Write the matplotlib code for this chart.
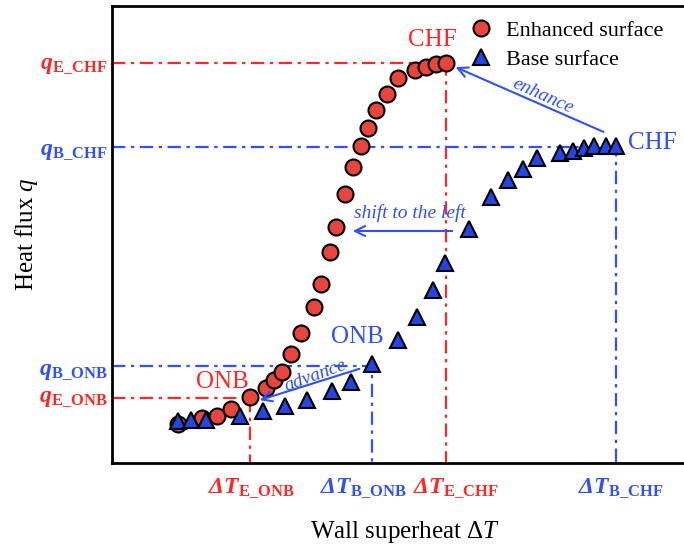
import matplotlib
matplotlib.use("Agg")
import matplotlib.pyplot as plt
from matplotlib.lines import Line2D

plt.rcParams['font.family'] = ['Liberation Serif', 'DejaVu Serif']
plt.rcParams['mathtext.fontset'] = 'custom'
plt.rcParams['mathtext.rm'] = 'Liberation Serif'
plt.rcParams['mathtext.it'] = 'Liberation Serif:italic'
plt.rcParams['mathtext.bf'] = 'Liberation Serif:bold'
plt.rcParams['mathtext.bfit'] = 'Liberation Serif:bold:italic'

# boiling curves (arbitrary units)
enh_dT = [66, 90, 105, 119, 138, 154, 162, 170, 179, 189, 202, 209, 218, 224,
          233, 241, 249, 256, 264, 275, 286, 303, 314, 324, 334]
enh_q = [39, 45, 47, 54, 66, 75, 83, 91, 109, 130, 156, 179, 211, 236,
         269, 296, 317, 335, 353, 369, 385, 393, 396, 399, 400]
base_dT = [66, 79, 94, 128, 151, 173, 195, 220, 239, 260, 286, 305, 321, 333,
           357, 379, 396, 411, 425, 448, 461, 472, 482, 494, 504]
base_q = [42, 43, 43, 47, 52, 57, 63, 72, 81, 99, 123, 146, 173, 200,
          234, 266, 283, 294, 305, 310, 312, 315, 317, 317, 317]

# characteristic points
dT_E_ONB, q_E_ONB = 138, 65
dT_B_ONB, q_B_ONB = 260, 97
dT_E_CHF, q_E_CHF = 334, 400
dT_B_CHF, q_B_CHF = 504, 316

RED = '#ff2626'
BLUE = '#3050f8'
RED_FILL = '#e8453f'
BLUE_FILL = '#2346e0'

fig = plt.figure(figsize=(6.84, 5.49), dpi=100)
ax = fig.add_axes([112 / 684, 86 / 549, 580 / 684, 457 / 549])
ax.set_xlim(0, 580)
ax.set_ylim(0, 457)
for s in ['top', 'left', 'bottom']:
    ax.spines[s].set_linewidth(2)
ax.spines['right'].set_visible(False)

dd = (6, 2.5, 1.5, 2.5)
ax.plot([0, dT_E_CHF, dT_E_CHF], [q_E_CHF, q_E_CHF, 0], color=RED, lw=1.6, dashes=dd, zorder=1)
ax.plot([0, dT_B_CHF, dT_B_CHF], [q_B_CHF, q_B_CHF, 0], color=BLUE, lw=1.6, dashes=dd, zorder=1)
ax.plot([0, dT_B_ONB, dT_B_ONB], [q_B_ONB, q_B_ONB, 0], color=BLUE, lw=1.6, dashes=dd, zorder=1)
ax.plot([0, dT_E_ONB, dT_E_ONB], [q_E_ONB, q_E_ONB, 0], color=RED, lw=1.6, dashes=dd, zorder=1)

ax.plot(enh_dT, enh_q, 'o', ms=11.5, mfc=RED_FILL, mec='black', mew=1.5, ls='none', zorder=3)
ax.plot(base_dT, base_q, '^', ms=12, mfc=BLUE_FILL, mec='black', mew=1.5, ls='none', zorder=4)

ax.set_yticks([q_E_ONB + 3, q_B_ONB - 2, q_B_CHF - 1, q_E_CHF + 1])
ax.set_yticklabels([r'$\mathbfit{q}_{\mathbf{E\_ONB}}$', r'$\mathbfit{q}_{\mathbf{B\_ONB}}$',
                    r'$\mathbfit{q}_{\mathbf{B\_CHF}}$', r'$\mathbfit{q}_{\mathbf{E\_CHF}}$'],
                   fontsize=17)
for lab, c in zip(ax.get_yticklabels(), [RED, BLUE, BLUE, RED]):
    lab.set_color(c)
ax.set_xticks([dT_E_ONB + 1, dT_B_ONB - 9, dT_E_CHF + 10, dT_B_CHF + 5])
ax.set_xticklabels([r'$\mathbfit{ΔT}_{\mathbf{E\_ONB}}$', r'$\mathbfit{ΔT}_{\mathbf{B\_ONB}}$',
                    r'$\mathbfit{ΔT}_{\mathbf{E\_CHF}}$', r'$\mathbfit{ΔT}_{\mathbf{B\_CHF}}$'],
                   fontsize=17)
for lab, c in zip(ax.get_xticklabels(), [RED, BLUE, RED, BLUE]):
    lab.set_color(c)
ax.tick_params(length=0, axis='y', pad=3)
ax.tick_params(length=0, axis='x', pad=10)

ax.set_xlabel(r'Wall superheat $\mathit{ΔT}$', fontsize=18)
ax.xaxis.set_label_coords(0.505, -0.122)
ax.set_ylabel(r'Heat flux $\mathit{q}$', fontsize=18)
ax.yaxis.set_label_coords(-0.125, 0.5)

ax.text(dT_E_CHF - 14, q_E_CHF + 23, 'CHF', color=RED, fontsize=18, ha='center', va='center')
ax.text(dT_B_CHF + 12, q_B_CHF + 4, 'CHF', color=BLUE, fontsize=18, ha='left', va='center')
ax.text(dT_E_ONB - 28, q_E_ONB + 16, 'ONB', color=RED, fontsize=18, ha='center', va='center')
ax.text(dT_B_ONB - 15, q_B_ONB + 29, 'ONB', color=BLUE, fontsize=18, ha='center', va='center')

ax.annotate('', xy=(dT_E_CHF + 7, q_E_CHF - 3), xytext=(494, 330),
            arrowprops=dict(arrowstyle='->', color=BLUE, lw=1.5, mutation_scale=18))
ax.text(431, 367, 'enhance', color=BLUE, fontsize=14, style='italic', rotation=-24,
        ha='center', va='center')
ax.annotate('', xy=(238, 232), xytext=(343, 232),
            arrowprops=dict(arrowstyle='->', color=BLUE, lw=1.5, mutation_scale=18))
ax.text(298, 250, 'shift to the left', color=BLUE, fontsize=14, style='italic',
        ha='center', va='center')
ax.annotate('', xy=(dT_E_ONB + 7, q_E_ONB - 3), xytext=(250, 95),
            arrowprops=dict(arrowstyle='->', color=BLUE, lw=1.5, mutation_scale=18))
ax.text(203, 87, 'advance', color=BLUE, fontsize=14, style='italic', rotation=20,
        ha='center', va='center')

handles = [Line2D([], [], marker='o', ls='none', ms=11.5, mfc=RED_FILL, mec='black', mew=1.5),
           Line2D([], [], marker='^', ls='none', ms=12, mfc=BLUE_FILL, mec='black', mew=1.5)]
fig.legend(handles, ['Enhanced surface', 'Base surface'], loc='upper left',
           bbox_to_anchor=(448 / 684, 1.0), frameon=False, fontsize=16,
           handletextpad=0.5, labelspacing=0.4, handlelength=1.2)

fig.savefig('out.png', dpi=100)
